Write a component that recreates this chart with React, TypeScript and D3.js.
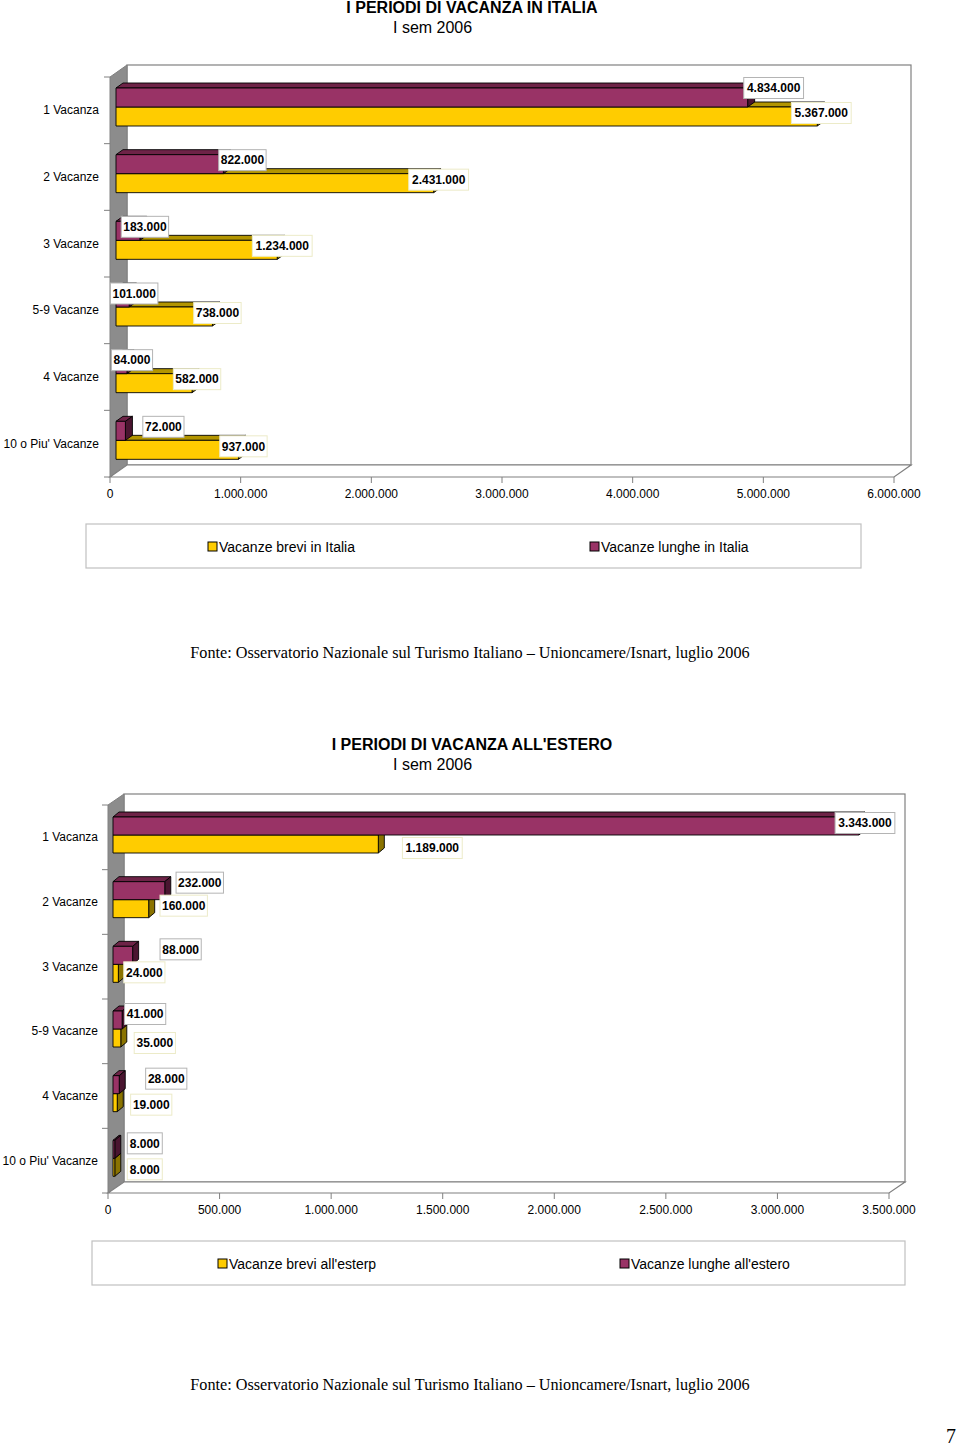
import React from "react";
import * as d3 from "d3";

const categories = ["1 Vacanza", "2 Vacanze", "3 Vacanze", "5-9 Vacanze", "4 Vacanze", "10 o Piu' Vacanze"];
const italiaBrevi = [5367000, 2431000, 1234000, 738000, 582000, 937000];
const italiaLunghe = [4834000, 822000, 183000, 101000, 84000, 72000];
const esteroBrevi = [1189000, 160000, 24000, 35000, 19000, 8000];
const esteroLunghe = [3343000, 232000, 88000, 41000, 28000, 8000];
const italiaTicks = [0, 1000000, 2000000, 3000000, 4000000, 5000000, 6000000];
const esteroTicks = [0, 500000, 1000000, 1500000, 2000000, 2500000, 3000000, 3500000];

// label nudges (style): dx from bar end, dy from band start
const italiaLabelNudge = {
  lungheDx: [26, 19, 5, 5, 5, 38], lungheDy: [11, 16.5, 16.5, 16.5, 16.5, 16.5],
  breviDx: [4, 5, 5, 5, 5, 5], breviDy: [36, 36, 35.5, 36, 35.5, 36],
};
const esteroLabelNudge = {
  lungheDx: [6, 35, 48, 23, 47, 30], lungheDy: [18, 13, 15, 15, 15, 15],
  breviDx: [54, 35, 26, 34, 34, 30], breviDy: [43, 36, 38, 44, 41, 41],
};

const locale = d3.formatLocale({ decimal: ",", thousands: ".", grouping: [3], currency: ["€", ""] });
const fmt = locale.format(",d");

const SANS = "'Liberation Sans', Arial, sans-serif";
const SERIF = "'Liberation Serif', 'Times New Roman', serif";

const PURPLE = { front: "#993366", top: "#6e2347", side: "#4a1530" };
const YELLOW = { front: "#FFCC00", top: "#b39500", side: "#8a7300" };

function Bar({ x0, x1, y0, y1, dx, dy, c }) {
  const top = [[x0, y0], [x0 + dx, y0 + dy], [x1 + dx, y0 + dy], [x1, y0]];
  const side = [[x1, y0], [x1 + dx, y0 + dy], [x1 + dx, y1 + dy], [x1, y1]];
  const p = (pts) => pts.map((q) => q.join(",")).join(" ");
  return (
    <g stroke="#000" strokeWidth={0.9} strokeLinejoin="round">
      <polygon points={p(top)} fill={c.top} />
      <polygon points={p(side)} fill={c.side} />
      <rect x={x0} y={y0} width={Math.max(0, x1 - x0)} height={y1 - y0} fill={c.front} />
    </g>
  );
}

function Label({ cx, cy, text, border }) {
  const w = text.length * 6.2 + 4;
  return (
    <g>
      <rect x={cx - w / 2} y={cy - 10.5} width={w} height={21} fill="#fff" stroke={border} strokeWidth={1} />
      <text x={cx} y={cy + 4.3} textAnchor="middle" fontFamily={SANS} fontWeight="bold" fontSize={12} fill="#000">{text}</text>
    </g>
  );
}

function Chart3D({ g, title, brevi, lunghe, ticks, nudge, legendBrevi, legendLunghe }) {
  const x = d3.scaleLinear().domain([ticks[0], ticks[ticks.length - 1]]).range([g.x0, g.x1]);
  const y = d3.scaleBand().domain(categories).range([g.yTop, g.yBot]).padding(0);
  const bw = y.bandwidth();
  const { dx, dy } = g;
  const poly = (pts) => pts.map((q) => q.join(",")).join(" ");
  const bx = (v) => x(v) + g.barShift;
  return (
    <g>
      <text x={g.titleX} y={g.titleY} textAnchor="middle" fontFamily={SANS} fontWeight="bold" fontSize={16}>{title}</text>
      <text x={g.subX} y={g.titleY + 20} fontFamily={SANS} fontSize={16}>I sem 2006</text>
      {/* back wall */}
      <rect x={g.x0 + dx} y={g.yTop + dy} width={g.x1 - g.x0} height={g.yBot - g.yTop} fill="#fff" stroke="#808080" strokeWidth={1.2} />
      {/* left wall */}
      <polygon points={poly([[g.x0, g.yTop], [g.x0 + dx, g.yTop + dy], [g.x0 + dx, g.yBot + dy], [g.x0, g.yBot]])} fill="#8c8c8c" stroke="#808080" strokeWidth={1} />
      {/* floor */}
      <polygon points={poly([[g.x0, g.yBot], [g.x0 + dx, g.yBot + dy], [g.x1 + dx, g.yBot + dy], [g.x1, g.yBot]])} fill="#fff" stroke="#808080" strokeWidth={1.2} />
      {/* category ticks */}
      {d3.range(categories.length + 1).map((i) => (
        <line key={"ct" + i} x1={g.x0 - 6} x2={g.x0} y1={g.yTop + i * bw} y2={g.yTop + i * bw} stroke="#808080" />
      ))}
      {categories.map((c) => (
        <text key={"cl" + c} x={g.catX} y={y(c) + bw / 2 + 4} textAnchor="end" fontFamily={SANS} fontSize={12}>{c}</text>
      ))}
      {ticks.map((t) => (
        <g key={"vt" + t}>
          <line x1={x(t)} x2={x(t)} y1={g.yBot} y2={g.yBot + 6} stroke="#808080" />
          <text x={x(t)} y={g.yBot + 20.5} textAnchor="middle" fontFamily={SANS} fontSize={12}>{fmt(t)}</text>
        </g>
      ))}
      {/* bars: yellow first then purple */}
      {categories.map((c, i) => {
        const b = y(c);
        const x0 = bx(0);
        return (
          <g key={"b" + c}>
            <Bar x0={x0} x1={bx(brevi[i])} y0={b + g.barOff + g.barH} y1={b + g.barOff + 2 * g.barH} dx={g.bdx} dy={g.bdy} c={YELLOW} />
            <Bar x0={x0} x1={bx(lunghe[i])} y0={b + g.barOff} y1={b + g.barOff + g.barH} dx={g.bdx} dy={g.bdy} c={PURPLE} />
          </g>
        );
      })}
      {categories.map((c, i) => {
        const b = y(c);
        return (
          <g key={"l" + c}>
            <Label cx={bx(lunghe[i]) + nudge.lungheDx[i]} cy={b + nudge.lungheDy[i]} text={fmt(lunghe[i])} border="#b4b4b4" />
            <Label cx={bx(brevi[i]) + nudge.breviDx[i]} cy={b + nudge.breviDy[i]} text={fmt(brevi[i])} border="#ecebc8" />
          </g>
        );
      })}
      {/* legend */}
      <rect x={g.lgX0} y={g.lgY} width={g.lgX1 - g.lgX0} height={44} fill="#fff" stroke="#c0c0c0" strokeWidth={1.2} />
      <rect x={g.lgA} y={g.lgY + 18} width={9} height={9} fill={YELLOW.front} stroke="#000" strokeWidth={1} />
      <text x={g.lgA + 11} y={g.lgY + 28} fontFamily={SANS} fontSize={14}>{legendBrevi}</text>
      <rect x={g.lgB} y={g.lgY + 18} width={9} height={9} fill={PURPLE.front} stroke="#000" strokeWidth={1} />
      <text x={g.lgB + 11} y={g.lgY + 28} fontFamily={SANS} fontSize={14}>{legendLunghe}</text>
      <text x={470} y={g.fonteY} textAnchor="middle" fontFamily={SERIF} fontSize={16.2}>
        Fonte: Osservatorio Nazionale sul Turismo Italiano – Unioncamere/Isnart, luglio 2006
      </text>
    </g>
  );
}

const geomItalia = {
  titleX: 472, subX: 393, titleY: 13,
  x0: 110, x1: 894, yTop: 77, yBot: 477, dx: 17, dy: -12,
  barShift: 6, barOff: 11, barH: 19, bdx: 7, bdy: -5, catX: 99,
  lgX0: 86, lgX1: 861, lgY: 524, lgA: 208, lgB: 590, fonteY: 658,
};
const geomEstero = {
  titleX: 472, subX: 393, titleY: 750,
  x0: 108, x1: 889, yTop: 805, yBot: 1193, dx: 16, dy: -11,
  barShift: 5, barOff: 12, barH: 18, bdx: 6, bdy: -5, catX: 98,
  lgX0: 92, lgX1: 905, lgY: 1241, lgA: 218, lgB: 620, fonteY: 1390,
};

export default function App() {
  return (
    <svg width={960} height={1446} style={{ position: "absolute", left: 0, top: 0, display: "block", background: "#fff" }}>
      <Chart3D g={geomItalia} title="I PERIODI DI VACANZA IN ITALIA" brevi={italiaBrevi} lunghe={italiaLunghe}
        ticks={italiaTicks} nudge={italiaLabelNudge} legendBrevi="Vacanze brevi in Italia" legendLunghe="Vacanze lunghe in Italia" />
      <Chart3D g={geomEstero} title="I PERIODI DI VACANZA ALL'ESTERO" brevi={esteroBrevi} lunghe={esteroLunghe}
        ticks={esteroTicks} nudge={esteroLabelNudge} legendBrevi="Vacanze brevi all'esterp" legendLunghe="Vacanze lunghe all'estero" />
      <text x={956} y={1443} textAnchor="end" fontFamily={SERIF} fontSize={20}>7</text>
    </svg>
  );
}
